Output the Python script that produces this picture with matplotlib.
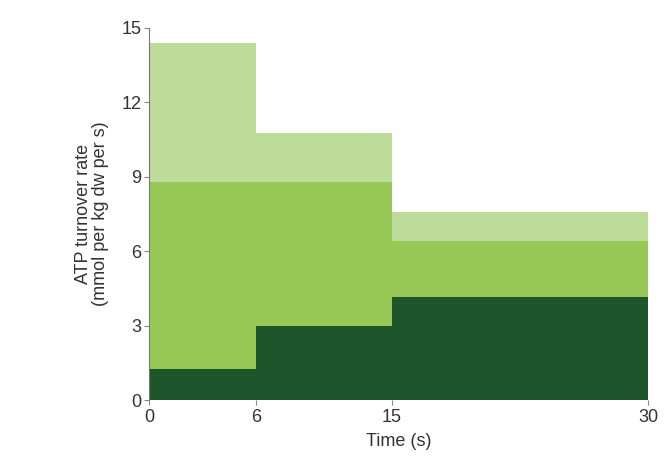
import numpy as np
import matplotlib
matplotlib.use("Agg")
import matplotlib.pyplot as plt

# time intervals (s) and stacked turnover rates (mmol per kg dw per s)
edges = [0, 6, 15, 30]
dark_vals = [1.25, 3.0, 4.15]
mid_tops = [8.8, 8.8, 6.4]
light_tops = [14.4, 10.75, 7.6]

dark_color = "#1f552b"
mid_color = "#97c856"
light_color = "#bddc9a"

# the time axis is drawn piecewise, not to linear scale
time_pts = [0, 6, 15, 30]
axis_pts = [0, 107, 243, 499]

def fwd(x):
    return np.interp(x, time_pts, axis_pts)

def inv(x):
    return np.interp(x, axis_pts, time_pts)

plt.rcParams['font.family'] = ['Liberation Sans', 'DejaVu Sans']

fig = plt.figure(figsize=(6.67, 4.61), dpi=100)
ax = fig.add_axes([0.2234, 0.1323, 0.7481, 0.807])
ax.set_xscale('function', functions=(fwd, inv))

lefts = edges[:-1]
widths = [edges[i + 1] - edges[i] for i in range(len(lefts))]
mid_vals = [m - d for m, d in zip(mid_tops, dark_vals)]
light_vals = [t - m for t, m in zip(light_tops, mid_tops)]

ax.bar(lefts, dark_vals, width=widths, align='edge', color=dark_color, linewidth=0)
ax.bar(lefts, mid_vals, width=widths, bottom=dark_vals, align='edge',
       color=mid_color, linewidth=0)
ax.bar(lefts, light_vals, width=widths, bottom=mid_tops, align='edge',
       color=light_color, linewidth=0)

ax.set_xlim(0, 30)
ax.set_ylim(0, 15)
ax.set_xticks(time_pts)
ax.set_xticklabels([str(t) for t in time_pts])
ax.set_yticks([0, 3, 6, 9, 12, 15])

for s in ['top', 'right']:
    ax.spines[s].set_visible(False)
ax.spines['left'].set_color('#777777')
ax.spines['left'].set_linewidth(0.8)
ax.spines['bottom'].set_visible(False)
ax.tick_params(axis='both', length=3.5, width=0.8, color='#888888',
               labelsize=13, labelcolor='#333333')
ax.tick_params(axis='y', pad=2)
ax.tick_params(axis='x', pad=3)

ax.set_xlabel("Time (s)", fontsize=13, color='#333333', labelpad=5)
ax.set_ylabel("ATP turnover rate\n(mmol per kg dw per s)", fontsize=13,
              color='#333333', labelpad=9, linespacing=1.0)

fig.savefig("out.png", dpi=100)
